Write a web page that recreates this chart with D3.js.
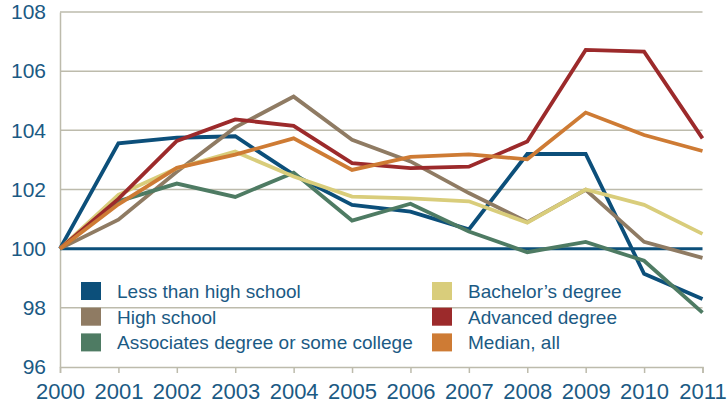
<!DOCTYPE html>
<html><head><meta charset="utf-8">
<script src="https://cdn.jsdelivr.net/npm/d3@7"></script>
<style>body{margin:0;background:#fff}svg{display:block}</style>
</head><body>
<svg id="c" width="727" height="409"></svg>
<script>
const years = [2000,2001,2002,2003,2004,2005,2006,2007,2008,2009,2010,2011];
const yTicks = [96,98,100,102,104,106,108];
const seriesNames = ["Less than high school","High school","Associates degree or some college","Bachelor\u2019s degree","Advanced degree","Median, all"];
const lessThanHS = [100,103.56,103.75,103.8,102.5,101.48,101.25,100.65,103.2,103.2,99.15,98.3];
const highSchool = [100,100.98,102.6,104.1,105.14,103.68,102.95,101.88,100.9,101.99,100.23,99.69];
const associates = [100,101.6,102.2,101.75,102.57,100.95,101.52,100.58,99.88,100.23,99.59,97.84];
const bachelors = [100,101.82,102.72,103.28,102.44,101.76,101.7,101.6,100.88,102.0,101.48,100.5];
const advanced = [100,101.68,103.64,104.37,104.15,102.89,102.72,102.77,103.62,106.72,106.66,103.73];
const medianAll = [100,101.5,102.73,103.18,103.73,102.66,103.1,103.19,103.02,104.6,103.84,103.3];
const colors = ["#0c4f7a","#8f7b63","#4e7b63","#d9cd7b","#9c2a2b","#ce7b34"];
const allSeries = [lessThanHS,highSchool,associates,bachelors,advanced,medianAll];

const svg = d3.select("#c");
const x = d3.scaleLinear().domain([2000,2011]).range([60,702.5]);
const y = d3.scaleLinear().domain([96,108]).range([367,12]);
const textColor = "#1b5a84";
const gridColor = "#bdbbac";
const font = "Liberation Sans, Arial, sans-serif";

svg.append("g").selectAll("line").data(yTicks.filter(d=>d!==96 && d!==100)).join("line")
  .attr("x1",x(2000)).attr("x2",x(2011)).attr("y1",d=>y(d)).attr("y2",d=>y(d))
  .attr("stroke",gridColor).attr("stroke-width",1.5);

const yAxis = svg.append("g").attr("transform",`translate(${x(2000)},0)`)
  .call(d3.axisLeft(y).tickValues(yTicks).tickSize(0).tickPadding(14).tickFormat(d3.format("d")));
yAxis.select(".domain").attr("stroke",gridColor).attr("stroke-width",1.5);
yAxis.selectAll("text").attr("fill",textColor).style("font-family",font).style("font-size","21px");

const xAxis = svg.append("g").attr("transform",`translate(0,${y(96)})`)
  .call(d3.axisBottom(x).tickValues(years).tickSize(6).tickPadding(10).tickFormat(d3.format("d")));
xAxis.select(".domain").attr("stroke",gridColor).attr("stroke-width",1.5);
xAxis.selectAll(".tick line").attr("stroke",gridColor).attr("stroke-width",1.5);
xAxis.selectAll("text").attr("fill",textColor).style("font-family",font).style("font-size","22px");

svg.append("line").attr("x1",x(2000)).attr("x2",x(2011)).attr("y1",y(100)).attr("y2",y(100))
  .attr("stroke","#0c4f7a").attr("stroke-width",3);

const line = d3.line().x((d,i)=>x(years[i])).y(d=>y(d));
svg.append("g").selectAll("path").data(allSeries).join("path")
  .attr("d",line).attr("fill","none").attr("stroke",(d,i)=>colors[i])
  .attr("stroke-width",3.8).attr("stroke-linejoin","miter");

const leg = svg.append("g");
seriesNames.forEach((name,i)=>{
  const col = i<3?0:1, row = i%3;
  const lx = col===0?81:432, ly = 282 + row*25.7;
  leg.append("rect").attr("x",lx).attr("y",ly).attr("width",20).attr("height",18).attr("fill",colors[i]);
  leg.append("text").attr("x",lx+36).attr("y",ly+16).text(name)
    .attr("fill",textColor).style("font-family",font).style("font-size","19px");
});
</script>
</body></html>
